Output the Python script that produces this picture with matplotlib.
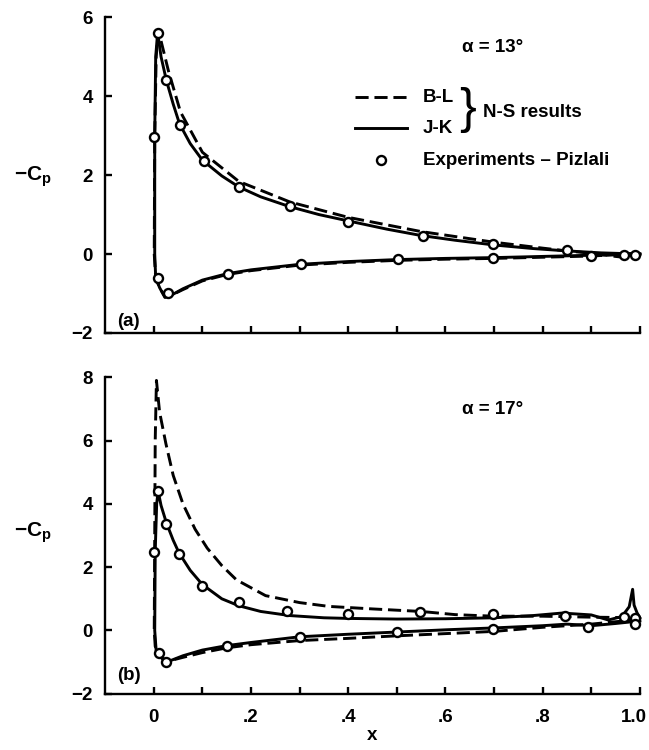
import numpy as np
import matplotlib.pyplot as plt
import matplotlib.transforms as mtransforms

plt.rcParams['font.family'] = ['Liberation Sans', 'DejaVu Sans']
plt.rcParams['font.weight'] = 'bold'
plt.rcParams['mathtext.fontset'] = 'custom'
plt.rcParams['mathtext.rm'] = 'Liberation Sans:bold'
plt.rcParams['mathtext.it'] = 'Liberation Sans:bold'
plt.rcParams['mathtext.bf'] = 'Liberation Sans:bold'

# ---- (a) alpha = 13 deg ----
# experiments, upper surface then lower surface
a_exp_x = [0.0, 0.009, 0.026, 0.053, 0.103, 0.175, 0.28, 0.40, 0.553, 0.697, 0.849, 0.899, 0.968, 0.99,
           0.009, 0.03, 0.153, 0.302, 0.503, 0.697]
a_exp_y = [2.96, 5.6, 4.42, 3.28, 2.35, 1.69, 1.22, 0.82, 0.46, 0.25, 0.10, -0.05, -0.03, -0.03,
           -0.6, -0.98, -0.51, -0.26, -0.13, -0.09]

# J-K: trailing edge (lower) -> leading edge -> trailing edge (upper)
a_jk_x = [1.0, 0.9, 0.8, 0.7, 0.6, 0.5, 0.4, 0.3, 0.2, 0.15, 0.1, 0.06, 0.035, 0.023, 0.012, 0.004,
          0.002, 0.002, 0.004, 0.008, 0.015, 0.026, 0.04, 0.053, 0.075, 0.1, 0.14, 0.175, 0.22, 0.28,
          0.34, 0.4, 0.48, 0.55, 0.62, 0.7, 0.78, 0.85, 0.92, 1.0]
a_jk_y = [0.0, -0.03, -0.06, -0.09, -0.11, -0.14, -0.19, -0.26, -0.4, -0.5, -0.66, -0.88, -1.05, -1.1, -0.85, -0.6,
          0.0, 3.0, 5.0, 5.62, 5.0, 4.4, 3.8, 3.3, 2.8, 2.38, 1.98, 1.7, 1.45, 1.2,
          1.0, 0.84, 0.63, 0.47, 0.35, 0.23, 0.14, 0.08, 0.03, 0.0]

# B-L
a_bl_x = [1.0, 0.9, 0.8, 0.7, 0.6, 0.5, 0.4, 0.3, 0.2, 0.15, 0.1, 0.06, 0.035, 0.023, 0.012, 0.004,
          0.001, 0.002, 0.005, 0.009, 0.015, 0.03, 0.055, 0.1, 0.175, 0.28, 0.4, 0.55, 0.7, 0.8,
          0.85, 0.9, 0.95, 0.98, 1.0]
a_bl_y = [0.02, -0.05, -0.08, -0.11, -0.13, -0.16, -0.21, -0.28, -0.42, -0.52, -0.68, -0.9, -1.05, -1.08, -0.85, -0.6,
          0.0, 3.0, 5.0, 5.65, 5.4, 4.65, 3.6, 2.58, 1.84, 1.32, 0.93, 0.57, 0.3, 0.15,
          0.08, 0.02, -0.06, -0.1, -0.02]

# ---- (b) alpha = 17 deg ----
b_exp_x = [0.0, 0.009, 0.026, 0.052, 0.10, 0.175, 0.274, 0.40, 0.548, 0.698, 0.845, 0.968, 0.99,
           0.01, 0.026, 0.151, 0.30, 0.50, 0.698, 0.893, 0.99]
b_exp_y = [2.49, 4.41, 3.36, 2.41, 1.42, 0.91, 0.62, 0.52, 0.58, 0.52, 0.47, 0.42, 0.39,
           -0.70, -1.0, -0.49, -0.21, -0.05, 0.05, 0.12, 0.21]

b_jk_x = [1.0, 0.95, 0.9, 0.85, 0.8, 0.7, 0.6, 0.5, 0.4, 0.3, 0.2, 0.15, 0.1, 0.06, 0.035, 0.025, 0.012, 0.005,
          0.002, 0.003, 0.006, 0.009, 0.015, 0.026, 0.04, 0.052, 0.075, 0.1, 0.14, 0.175, 0.22, 0.28,
          0.35, 0.4, 0.5, 0.6, 0.7, 0.78, 0.84, 0.9, 0.935, 0.963, 0.978, 0.985, 0.988, 0.994, 1.0]
b_jk_y = [0.3, 0.22, 0.15, 0.2, 0.15, 0.08, 0.02, -0.05, -0.12, -0.2, -0.38, -0.48, -0.62, -0.8, -0.95, -1.02, -0.8, -0.65,
          0.0, 2.5, 4.0, 4.4, 3.95, 3.4, 2.85, 2.45, 1.9, 1.45, 1.0, 0.78, 0.6, 0.47,
          0.4, 0.38, 0.36, 0.37, 0.4, 0.47, 0.55, 0.49, 0.33, 0.44, 0.75, 1.3, 0.8, 0.56, 0.4]

b_bl_x = [1.0, 0.9, 0.8, 0.7, 0.6, 0.5, 0.4, 0.3, 0.2, 0.15, 0.1, 0.06, 0.035, 0.02, 0.01, 0.003,
          0.001, 0.003, 0.0055, 0.012, 0.025, 0.04, 0.06, 0.085, 0.11, 0.14, 0.17, 0.23, 0.3, 0.36,
          0.45, 0.55, 0.62, 0.7, 0.8, 0.9, 1.0]
b_bl_y = [0.35, 0.2, 0.1, -0.03, -0.1, -0.17, -0.25, -0.32, -0.45, -0.55, -0.7, -0.85, -0.95, -0.9, -0.75, -0.5,
          0.0, 6.0, 7.9, 6.9, 5.9, 4.9, 4.0, 3.2, 2.6, 2.05, 1.6, 1.1, 0.88, 0.76,
          0.68, 0.6, 0.5, 0.45, 0.45, 0.42, 0.4]

x_ticks = np.arange(0, 11) / 10
x_ticklabels = ['0', '', '.2', '', '.4', '', '.6', '', '.8', '', '1.0']

fig = plt.figure(figsize=(6.49, 7.5), dpi=100)
ax1 = fig.add_axes([0.162, 0.556, 0.824, 0.421])
ax2 = fig.add_axes([0.162, 0.075, 0.824, 0.422])

lw = 2.1
dash = (0, (4.5, 2))


def style(ax, ylim, yticks):
    ax.set_xlim(-0.1, 1.0)
    ax.set_ylim(*ylim)
    ax.set_yticks(yticks)
    ax.set_xticks(x_ticks)
    for s in ['top', 'right']:
        ax.spines[s].set_visible(False)
    for s in ['left', 'bottom']:
        ax.spines[s].set_linewidth(1.7)
    ax.tick_params(direction='in', length=5, width=1.7, labelsize=13.5)
    ax.tick_params(axis='y', pad=9)
    ax.tick_params(axis='x', pad=11)


for ax, exp_x, exp_y, jk_x, jk_y, bl_x, bl_y in [
        (ax1, a_exp_x, a_exp_y, a_jk_x, a_jk_y, a_bl_x, a_bl_y),
        (ax2, b_exp_x, b_exp_y, b_jk_x, b_jk_y, b_bl_x, b_bl_y)]:
    ax.plot(bl_x, bl_y, color='black', lw=lw, linestyle=dash, clip_on=False)
    ax.plot(jk_x, jk_y, color='black', lw=lw, clip_on=False)
    ax.plot(exp_x, exp_y, 'o', color='black', mfc='white', ms=6.5, mew=1.7, clip_on=False, zorder=5)

style(ax1, (-2, 6), [-2, 0, 2, 4, 6])
ax1.set_xticklabels([])
style(ax2, (-2, 8), [-2, 0, 2, 4, 6, 8])
ax2.set_xticklabels(x_ticklabels)
ax2.set_xlabel('x', fontsize=13.5, fontweight='bold', labelpad=1)

# pull the last tick label ("1.0") a little to the left so it stays inside the figure
last = ax2.get_xticklabels()[-1]
last.set_transform(last.get_transform() + mtransforms.ScaledTranslation(-6 / 100, 0, fig.dpi_scale_trans))

for ax, ypos in [(ax1, 0.494), (ax2, 0.508)]:
    ax.text(-0.135, ypos, r'$-C_p$', transform=ax.transAxes, fontsize=15,
            ha='center', va='center')

ax1.text(0.725, 0.905, '\u03b1 = 13\u00b0', transform=ax1.transAxes, fontsize=13.5,
         ha='center', va='center', fontweight='bold')
ax2.text(0.725, 0.899, '\u03b1 = 17\u00b0', transform=ax2.transAxes, fontsize=13.5,
         ha='center', va='center', fontweight='bold')
ax1.text(0.022, 0.035, '(a)', transform=ax1.transAxes, fontsize=13.5, ha='left', va='center')
ax2.text(0.022, 0.057, '(b)', transform=ax2.transAxes, fontsize=13.5, ha='left', va='center')

# legend drawn by hand in the top panel
ax1.plot([0.467, 0.564], [0.747, 0.747], transform=ax1.transAxes, color='black',
         lw=lw, linestyle=dash, clip_on=False)
ax1.plot([0.467, 0.564], [0.649, 0.649], transform=ax1.transAxes, color='black',
         lw=lw, clip_on=False)
ax1.plot([0.516], [0.547], 'o', transform=ax1.transAxes, color='black', mfc='white',
         ms=6.5, mew=1.7, clip_on=False)
ax1.text(0.594, 0.747, 'B-L', transform=ax1.transAxes, fontsize=13.5, va='center')
ax1.text(0.594, 0.649, 'J-K', transform=ax1.transAxes, fontsize=13.5, va='center')
ax1.text(0.677, 0.705, '}', transform=ax1.transAxes, fontsize=36, va='center', ha='center',
         fontweight='normal')
ax1.text(0.707, 0.699, 'N-S results', transform=ax1.transAxes, fontsize=13.5, va='center')
ax1.text(0.594, 0.547, 'Experiments \u2013 Pizlali', transform=ax1.transAxes, fontsize=13.5,
         va='center')

fig.savefig('out.png', dpi=100)
